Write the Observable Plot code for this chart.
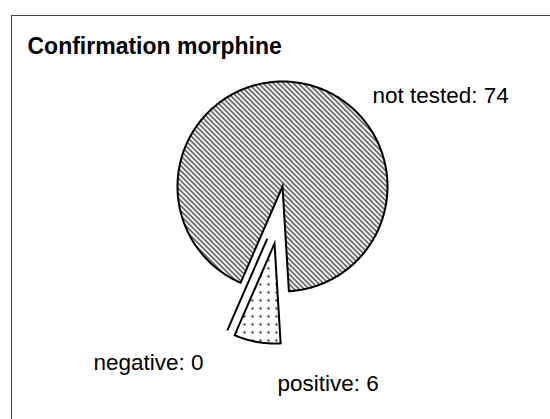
<!DOCTYPE html>
<html><head><meta charset="utf-8">
<script src="https://cdn.jsdelivr.net/npm/d3@7"></script>
<script src="https://cdn.jsdelivr.net/npm/@observablehq/plot@0.6"></script>
<style>
body{margin:0;background:#fff;}
#chart svg{display:block;}
</style>
</head><body><div id="chart"></div>
<script>
// ---- data ----
const title = "Confirmation morphine";
const categories = ["not tested", "positive", "negative"];
const counts = [74, 6, 0];

// ---- layout (not data) ----
const W = 550, H = 419;
const cx = 282, cy = 186, R = 105;
const startDeg = 203.5;
const explode = {"not tested": [0, 0], "positive": [-0.076, -0.543], "negative": [-0.146, -0.498]};
const sliceRadius = {"not tested": 1, "positive": 0.952, "negative": 0.952};
const labelPos = {"not tested": [0.857, 0.8], "positive": [-0.048, -1.943], "negative": [-1.8, -1.743]};
const fills = {"not tested": "url(#hatch)", "positive": "url(#dots)", "negative": "none"};
const font = "'Liberation Sans', Arial, Helvetica, sans-serif";

const data = categories.map((c, i) => ({category: c, value: counts[i]}));
const a0 = startDeg * Math.PI / 180;
const arcs = d3.pie().sort(null).value(d => d.value).startAngle(a0).endAngle(a0 + 2 * Math.PI)(data);

const slices = arcs.map(a => {
  const c = a.data.category;
  const [ox, oy] = explode[c];
  const r = sliceRadius[c];
  const pts = [{x: ox, y: oy}];
  const n = Math.max(1, Math.ceil((a.endAngle - a.startAngle) / (Math.PI / 180)));
  for (let k = 0; k <= n; k++) {
    const t = a.startAngle + (a.endAngle - a.startAngle) * k / n;
    pts.push({x: ox + r * Math.sin(t), y: oy + r * Math.cos(t)});
  }
  return {category: c, pts};
});

const labels = arcs.map(a => ({
  text: `${a.data.category}: ${a.data.value}`,
  x: labelPos[a.data.category][0],
  y: labelPos[a.data.category][1]
}));

const chart = Plot.plot({
  width: W, height: H,
  marginLeft: 11, marginTop: 15, marginRight: 0, marginBottom: 0,
  x: {domain: [-1, 1], range: [cx - R, cx + R], axis: null},
  y: {domain: [-1, 1], range: [cy + R, cy - R], axis: null},
  style: {fontFamily: font, background: "white", color: "black"},
  marks: [
    Plot.frame({stroke: "#444", insetRight: -3, insetBottom: -3}),
    ...slices.map(s => Plot.line(s.pts, {
      x: "x", y: "y", curve: "linear-closed",
      fill: fills[s.category], stroke: "black", strokeWidth: 2,
      strokeLinejoin: "miter", strokeMiterlimit: 10, strokeLinecap: "butt"
    })),
    Plot.text(labels, {x: "x", y: "y", text: "text", textAnchor: "start", lineAnchor: "bottom", fontSize: 22.5, fill: "black"}),
    Plot.text([title], {text: d => d, frameAnchor: "top-left", dx: 16, dy: 22, lineAnchor: "top", fontSize: 23, fontWeight: "bold", fill: "black"})
  ]
});

const defs = d3.select(chart).insert("defs", ":first-child");
const hatch = defs.append("pattern").attr("id", "hatch").attr("patternUnits", "userSpaceOnUse").attr("width", 5).attr("height", 5);
hatch.append("rect").attr("width", 5).attr("height", 5).attr("fill", "white");
hatch.append("path").attr("d", "M-1,-1L6,6M-1,4L1,6M4,-1L6,1").attr("stroke", "black").attr("stroke-width", 1.1);
const dots = defs.append("pattern").attr("id", "dots").attr("patternUnits", "userSpaceOnUse").attr("width", 8).attr("height", 8);
dots.append("rect").attr("width", 8).attr("height", 8).attr("fill", "white");
dots.append("rect").attr("x", 3).attr("y", 3).attr("width", 1.8).attr("height", 1.8).attr("fill", "black");

document.getElementById("chart").appendChild(chart);
</script>
</body></html>
